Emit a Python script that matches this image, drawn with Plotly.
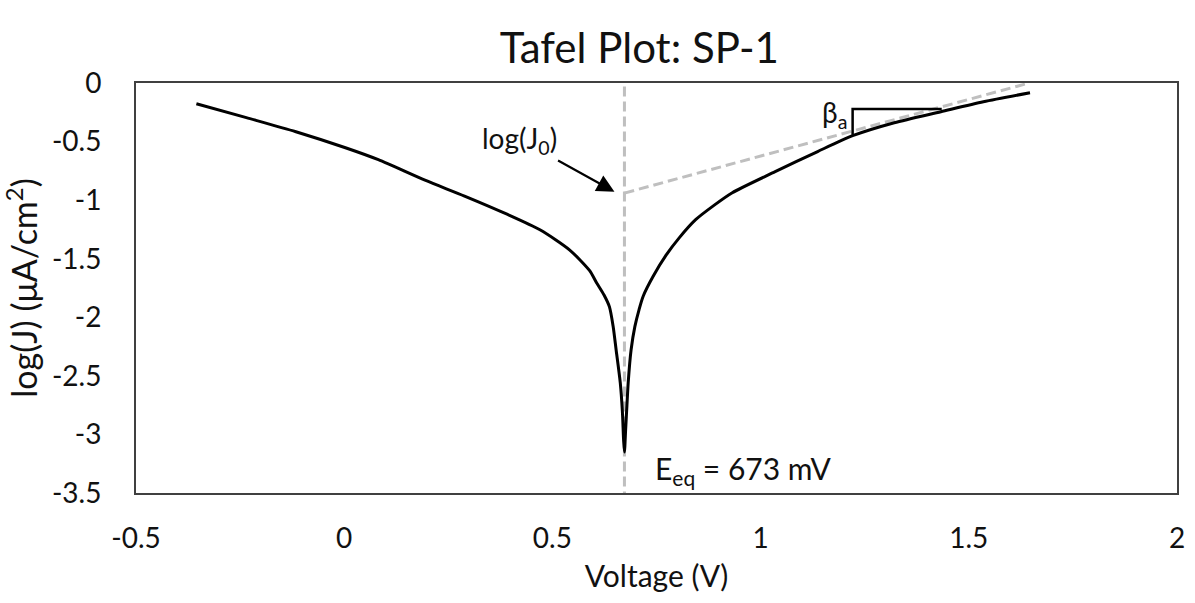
import plotly.graph_objects as go

# Measured Tafel curve (voltage in V, log current density)
voltage = [-0.355, -0.235, -0.116, 0.003, 0.082, 0.194, 0.289, 0.391, 0.470, 0.541,
           0.589, 0.606, 0.624, 0.637, 0.646, 0.653, 0.663, 0.668, 0.671, 0.673,
           0.676, 0.679, 0.682, 0.689, 0.698, 0.708, 0.718, 0.742, 0.773, 0.805,
           0.844, 0.888, 0.932, 1.035, 1.137, 1.221, 1.321, 1.433, 1.535, 1.647]
log_j = [-0.177, -0.296, -0.416, -0.553, -0.655, -0.830, -0.965, -1.120, -1.253, -1.424,
         -1.600, -1.705, -1.810, -1.911, -2.080, -2.277, -2.559, -2.800, -3.050, -3.150,
         -2.950, -2.750, -2.559, -2.277, -2.080, -1.936, -1.820, -1.650, -1.470, -1.320,
         -1.167, -1.045, -0.937, -0.757, -0.585, -0.450, -0.339, -0.245, -0.160, -0.083]

# Equilibrium potential line
e_eq_x = [0.673, 0.673]
e_eq_y = [-0.03, -3.5]

# Anodic Tafel tangent line
tangent_x = [0.673, 1.645]
tangent_y = [-0.94, 0.0]

# Slope triangle (beta_a)
tri_x = [1.221, 1.221, 1.435]
tri_y = [-0.442, -0.222, -0.222]

x_ticks = [-0.5, 0, 0.5, 1, 1.5, 2]
x_tick_text = ["-0.5", "0", "0.5", "1", "1.5", "2"]
y_ticks = [0, -0.5, -1, -1.5, -2, -2.5, -3, -3.5]
y_tick_text = ["0", "-0.5", "-1", "-1.5", "-2", "-2.5", "-3", "-3.5"]

FONT = "Lato"
GRAY = "#bfbfbf"
TXT = "#111111"

fig = go.Figure()
fig.add_trace(go.Scatter(x=e_eq_x, y=e_eq_y, mode="lines",
                         line=dict(color=GRAY, width=3, dash="10px,5px"),
                         hoverinfo="skip", showlegend=False))
fig.add_trace(go.Scatter(x=tangent_x, y=tangent_y, mode="lines",
                         line=dict(color=GRAY, width=3, dash="10px,5px"),
                         hoverinfo="skip", showlegend=False))
fig.add_trace(go.Scatter(x=voltage, y=log_j, mode="lines",
                         line=dict(color="black", width=3, shape="spline", smoothing=0.7),
                         showlegend=False))
fig.add_trace(go.Scatter(x=tri_x, y=tri_y, mode="lines",
                         line=dict(color="black", width=2.5),
                         hoverinfo="skip", showlegend=False))

fig.add_annotation(x=0.42, y=-0.484, xref="x", yref="y", text="log(J<sub>0</sub>)",
                   showarrow=False, font=dict(family=FONT, size=28, color=TXT))
fig.add_annotation(x=0.649, y=-0.928, ax=0.510, ay=-0.655, xref="x", yref="y",
                   axref="x", ayref="y", text="", showarrow=True,
                   arrowhead=2, arrowsize=1.6, arrowwidth=2.2, arrowcolor="black")
fig.add_annotation(x=1.177, y=-0.262, xref="x", yref="y", text="β<sub>a</sub>",
                   showarrow=False, font=dict(family=FONT, size=28, color=TXT))
fig.add_annotation(x=0.958, y=-3.30, xref="x", yref="y",
                   text="E<sub>eq</sub> = 673 mV",
                   showarrow=False, font=dict(family=FONT, size=30, color=TXT))

fig.update_layout(
    width=1195, height=603,
    margin=dict(l=136, r=10, t=83, b=110),
    paper_bgcolor="white", plot_bgcolor="white",
    font=dict(family=FONT, size=28, color=TXT),
    title=dict(text="Tafel Plot: SP-1", x=0.535, xanchor="center",
               y=0.92, yanchor="middle", font=dict(family=FONT, size=42, color=TXT)),
)
fig.update_xaxes(range=[-0.5, 2], tickvals=x_ticks, ticktext=x_tick_text,
                 showgrid=False, zeroline=False, showline=True, mirror=True,
                 linecolor="#404040", linewidth=2, ticks="", ticklabelstandoff=19,
                 tickfont=dict(family=FONT, size=28, color=TXT),
                 title=dict(text="Voltage (V)", standoff=13,
                            font=dict(family=FONT, size=30, color=TXT)))
fig.update_yaxes(range=[-3.5, 0], tickvals=y_ticks, ticktext=y_tick_text,
                 showgrid=False, zeroline=False, showline=True, mirror=True,
                 linecolor="#404040", linewidth=2, ticks="", ticklabelstandoff=27,
                 tickfont=dict(family=FONT, size=28, color=TXT),
                 title=dict(text="log(J) (μA/cm<sup>2</sup>)", standoff=8,
                            font=dict(family=FONT, size=34, color=TXT)))

fig.write_html("out.html")
